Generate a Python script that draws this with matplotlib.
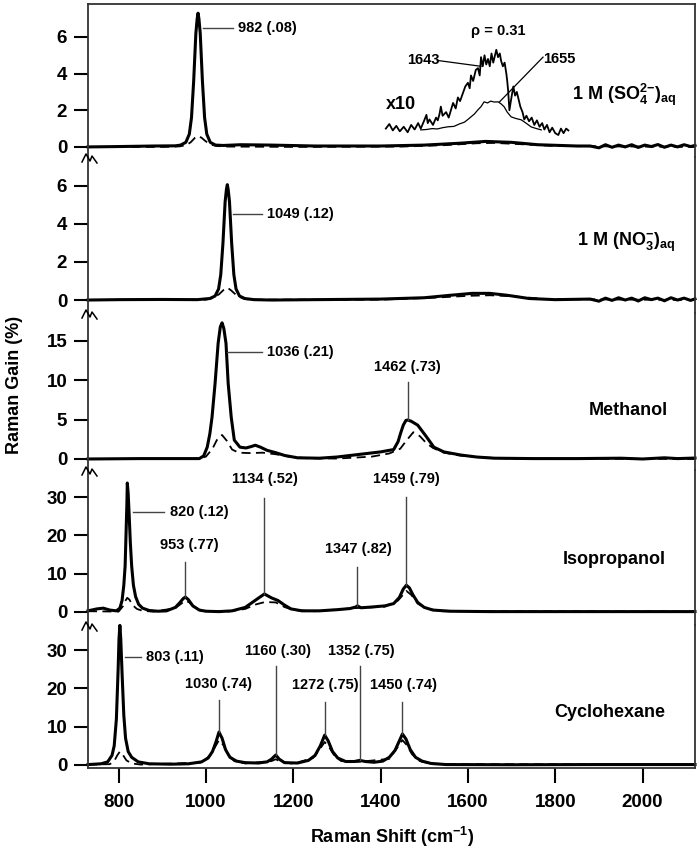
import numpy as np
import matplotlib.pyplot as plt
from matplotlib.lines import Line2D

plt.rcParams['font.family'] = ['Liberation Sans', 'DejaVu Sans']
plt.rcParams['font.weight'] = 'bold'
plt.rcParams['mathtext.fontset'] = 'custom'
plt.rcParams['mathtext.rm'] = 'Liberation Sans:bold'
plt.rcParams['mathtext.bf'] = 'Liberation Sans:bold'
plt.rcParams['mathtext.it'] = 'Liberation Sans:bold'
plt.rcParams['mathtext.default'] = 'bf'

# ---- spectra (Raman shift in cm-1, gain in %) ----
# 1 M sulfate, parallel (solid) and perpendicular (dashed)
so4_par_x = [730, 800, 880, 930, 942, 954, 962, 967, 972, 977, 980, 982, 984, 987, 992, 997,
             1002, 1010, 1022, 1040, 1080, 1150, 1250, 1400, 1500, 1580, 1640, 1700, 1760, 1850,
             1880, 1900, 1915, 1930, 1945, 1960, 1975, 1990, 2005, 2020, 2035, 2050, 2065, 2080,
             2095, 2110, 2120]
so4_par_y = [0.0, 0.02, 0.05, 0.06, 0.1, 0.25, 0.7, 1.6, 3.6, 6.2, 7.0, 7.3, 7.0, 6.2, 3.6, 1.6,
             0.7, 0.25, 0.1, 0.08, 0.12, 0.1, 0.05, 0.05, 0.1, 0.2, 0.3, 0.25, 0.12, 0.05,
             0.05, -0.05, 0.12, -0.02, 0.1, 0.0, 0.12, -0.03, 0.1, 0.02, 0.13, -0.02, 0.1, 0.0,
             0.12, 0.02, 0.08]
so4_perp_x = [730, 900, 940, 955, 965, 975, 982, 990, 1000, 1012, 1025, 1050, 1200, 1450, 1550,
              1620, 1660, 1720, 1800, 2120]
so4_perp_y = [0.0, 0.0, 0.03, 0.1, 0.25, 0.5, 0.6, 0.5, 0.3, 0.12, 0.05, 0.02, 0.0, 0.02, 0.1,
              0.2, 0.22, 0.15, 0.05, 0.0]
# x10 expanded bending band (drawn offset above the baseline)
so4_x10_par_x = [1412, 1420, 1428, 1436, 1444, 1453, 1462, 1470, 1478, 1486, 1492, 1500, 1505,
                 1508, 1512, 1520, 1527, 1531, 1535, 1538, 1542, 1550, 1556, 1561, 1566, 1572,
                 1577, 1582, 1588, 1594, 1600, 1604, 1607, 1612, 1618, 1623, 1627, 1630, 1634,
                 1638, 1642, 1646, 1650, 1654, 1658, 1662, 1665, 1669, 1673, 1676, 1680, 1684,
                 1688, 1690, 1692, 1695, 1699, 1704, 1708, 1712, 1715, 1720, 1725, 1729, 1734,
                 1740, 1746, 1752, 1758, 1764, 1770, 1775, 1781, 1787, 1793, 1800, 1807, 1813,
                 1819, 1825, 1830]
so4_x10_par_y = [1.0, 1.25, 0.9, 1.15, 0.85, 1.1, 0.8, 1.2, 0.95, 1.3, 1.0, 1.45, 1.75,
                 1.3, 1.5, 1.2, 1.6, 1.45, 1.8, 2.2, 1.7, 1.9, 1.6, 2.0, 2.4, 2.1,
                 2.7, 2.5, 2.9, 3.3, 3.5, 3.2, 3.9, 3.6, 4.2, 4.3, 3.9, 4.9, 4.4,
                 5.0, 4.5, 4.8, 4.4, 5.1, 4.6, 5.0, 5.3, 4.9, 5.1, 4.7, 4.4, 4.6,
                 4.0, 3.6, 3.1, 2.0, 2.6, 3.3, 2.8, 3.0, 2.7, 2.2, 1.9, 1.5, 1.7,
                 1.4, 1.6, 1.2, 1.45, 1.1, 1.3, 0.95, 1.2, 0.8, 1.05, 0.75, 0.65, 1.0,
                 0.75, 1.0, 0.9]
so4_x10_perp_x = [1492, 1505, 1518, 1530, 1542, 1555, 1568, 1580, 1592, 1600, 1607, 1615, 1622,
                  1630, 1637, 1645, 1652, 1660, 1669, 1676, 1683, 1690, 1699, 1710, 1722, 1733,
                  1745, 1757, 1768]
so4_x10_perp_y = [0.93, 0.95, 1.0, 0.98, 1.05, 1.1, 1.12, 1.25, 1.35, 1.5, 1.64, 1.8, 2.0,
                  2.2, 2.46, 2.4, 2.5, 2.45, 2.46, 2.35, 2.19, 1.9, 1.64, 1.55, 1.48, 1.3,
                  1.09, 1.0, 0.93]

# 1 M nitrate
no3_par_x = [730, 800, 900, 980, 1009, 1021, 1029, 1034, 1039, 1044, 1047, 1049, 1051, 1054,
             1059, 1064, 1069, 1077, 1089, 1110, 1150, 1250, 1400, 1500, 1560, 1610, 1650, 1690,
             1740, 1800, 1880, 1900, 1915, 1930, 1945, 1960, 1975, 1990, 2005, 2020, 2035, 2050,
             2065, 2080, 2095, 2110, 2120]
no3_par_y = [0.0, 0.02, 0.03, 0.02, 0.08, 0.21, 0.58, 1.33, 2.97, 5.15, 5.8, 6.05, 5.8, 5.15,
             2.97, 1.33, 0.58, 0.21, 0.08, 0.02, 0.0, 0.02, 0.05, 0.12, 0.25, 0.35, 0.35, 0.25,
             0.08, 0.02, 0.05, -0.06, 0.1, -0.02, 0.12, 0.0, 0.1, -0.05, 0.12, 0.02, 0.1, -0.04,
             0.12, 0.0, 0.1, -0.02, 0.06]
no3_perp_x = [730, 1000, 1015, 1030, 1040, 1049, 1058, 1070, 1085, 1100, 1400, 1520, 1600, 1650,
              1700, 1780, 2120]
no3_perp_y = [0.0, 0.02, 0.1, 0.3, 0.52, 0.65, 0.5, 0.25, 0.08, 0.02, 0.02, 0.12, 0.22, 0.25,
              0.2, 0.05, 0.0]

# methanol
meoh_par_x = [730, 850, 950, 985, 995, 1003, 1009, 1014, 1021, 1028, 1033, 1037, 1041, 1046,
              1051, 1058, 1065, 1078, 1092, 1105, 1113, 1125, 1140, 1160, 1180, 1210, 1260, 1300,
              1354, 1400, 1430, 1440, 1446, 1452, 1458, 1462, 1470, 1485, 1504, 1522, 1545, 1584,
              1620, 1660, 1750, 1850, 1950, 2000, 2050, 2080, 2120]
meoh_par_y = [0.0, 0.05, 0.05, 0.05, 0.4, 1.5, 3.2, 5.3, 9.6, 14.7, 16.8, 17.3, 16.6, 14.7,
              9.6, 5.3, 2.4, 1.5, 1.4, 1.6, 1.75, 1.5, 1.1, 0.8, 0.45, 0.15, 0.1, 0.25,
              0.6, 0.9, 1.2, 2.2, 3.3, 4.3, 4.9, 4.95, 4.8, 4.3, 2.9, 1.5, 0.9, 0.5,
              0.25, 0.1, 0.05, 0.05, 0.1, 0.0, 0.15, 0.05, 0.12]
meoh_perp_x = [730, 980, 1000, 1015, 1025, 1037, 1048, 1060, 1075, 1100, 1130, 1160, 1190, 1230,
               1300, 1380, 1420, 1445, 1460, 1475, 1490, 1505, 1520, 1545, 1580, 1630, 1700, 2120]
meoh_perp_y = [0.0, 0.0, 0.3, 1.3, 2.4, 3.05, 2.3, 1.2, 0.8, 0.75, 0.8, 0.6, 0.3, 0.1,
               0.05, 0.3, 0.7, 1.3, 2.4, 3.4, 2.9, 2.0, 1.4, 0.8, 0.45, 0.2, 0.05, 0.0]

# isopropanol
ipa_par_x = [730, 750, 765, 780, 795, 803, 808, 812, 815, 817, 819, 820, 822, 824, 827, 830,
             834, 839, 846, 855, 870, 890, 910, 930, 940, 948, 953, 960, 970, 985, 1000, 1030,
             1060, 1090, 1110, 1125, 1134, 1150, 1165, 1180, 1195, 1220, 1260, 1300, 1330, 1343,
             1347, 1355, 1380, 1410, 1430, 1443, 1452, 1459, 1466, 1474, 1485, 1500, 1520, 1560,
             1650, 1800, 1950, 2120]
ipa_par_y = [0.3, 0.8, 1.0, 0.5, 0.3, 1.0, 3.0, 7.0, 12.0, 20.0, 28.0, 33.7, 31.0, 26.0, 18.0, 12.0,
             7.0, 4.0, 2.0, 1.0, 0.4, 0.2, 0.3, 1.2, 2.4, 3.5, 3.9, 3.2, 1.6, 0.5, 0.2, 0.1,
             0.3, 1.2, 2.8, 4.0, 4.7, 3.7, 3.0, 1.8, 0.8, 0.3, 0.3, 0.6, 0.9, 1.3,
             1.6, 1.1, 1.3, 1.6, 2.2, 3.8, 6.0, 7.0, 6.3, 4.5, 2.5, 1.2, 0.5, 0.2,
             0.1, 0.1, 0.1, 0.1]
ipa_perp_x = [730, 800, 810, 816, 820, 825, 832, 842, 855, 880, 930, 945, 953, 962, 975, 990,
              1050, 1090, 1115, 1135, 1160, 1180, 1200, 1250, 1340, 1410, 1440, 1459, 1470, 1485,
              1505, 1540, 2120]
ipa_perp_y = [0.2, 0.1, 1.5, 3.0, 3.7, 3.2, 1.8, 0.8, 0.3, 0.1, 1.0, 2.3, 3.0, 2.5, 1.0, 0.3,
              0.1, 0.8, 2.0, 2.6, 2.5, 1.3, 0.5, 0.2, 1.0, 1.4, 3.0, 5.5, 4.5, 2.2,
              0.9, 0.2, 0.1]

# cyclohexane
chx_par_x = [730, 760, 775, 785, 790, 795, 799, 801, 803, 805, 808, 812, 816, 822, 830, 845,
             870, 920, 960, 990, 1005, 1015, 1023, 1030, 1037, 1045, 1055, 1070, 1090, 1120, 1140,
             1150, 1160, 1168, 1180, 1210, 1235, 1250, 1262, 1272, 1280, 1290, 1302, 1320, 1340,
             1352, 1365, 1385, 1405, 1420, 1433, 1443, 1450, 1458, 1468, 1480, 1495, 1515, 1550,
             1700, 1900, 2120]
chx_par_y = [0.1, 0.3, 0.8, 2.5, 5.0, 12.0, 25.0, 33.0, 36.5, 33.0, 24.0, 13.0, 7.0, 3.5, 2.0, 0.8,
             0.3, 0.2, 0.3, 0.8, 1.8, 3.5, 6.0, 8.6, 7.0, 4.0, 2.0, 1.0, 0.6, 0.5, 0.8,
             1.5, 2.6, 1.5, 0.6, 0.5, 1.2, 2.5, 5.0, 7.8, 6.3, 3.5, 1.8, 0.9, 0.9,
             1.2, 0.9, 0.7, 1.0, 2.0, 3.8, 6.3, 8.1, 6.8, 4.0, 2.0, 1.0, 0.4, 0.1,
             0.05, 0.1, 0.1]
chx_perp_x = [730, 780, 790, 797, 803, 810, 818, 830, 850, 990, 1010, 1020, 1030, 1040, 1050,
              1065, 1090, 1150, 1160, 1170, 1200, 1245, 1260, 1272, 1283, 1295, 1310, 1350, 1420,
              1440, 1450, 1460, 1472, 1490, 1520, 2120]
chx_perp_y = [0.1, 0.2, 1.0, 2.5, 3.5, 2.6, 1.2, 0.4, 0.1, 0.6, 2.5, 4.5, 6.5, 5.2, 2.8,
              1.0, 0.4, 1.0, 1.5, 0.9, 0.3, 1.8, 4.0, 6.0, 4.5, 2.3, 1.0, 0.8, 1.6,
              4.8, 6.5, 5.2, 2.8, 1.0, 0.2, 0.1]

sample_names = [r'1 M (SO$_4^{2\mathbf{-}}$)$_{aq}$', r'1 M (NO$_3^{\mathbf{-}}$)$_{aq}$',
                'Methanol', 'Isopropanol', 'Cyclohexane']
y_ticks = [[0, 2, 4, 6], [0, 2, 4, 6], [0, 5, 10, 15], [0, 10, 20, 30], [0, 10, 20, 30]]
x_ticks = [800, 1000, 1200, 1400, 1600, 1800, 2000]

# peak labels: text, text position, leader line start/end
peak_labels = [
    [('982 (.08)', 1074, 6.5, 'left', (993, 6.5), (1062, 6.5))],
    [('1049 (.12)', 1140, 4.5, 'left', (1062, 4.5), (1128, 4.5))],
    [('1036 (.21)', 1140, 13.6, 'left', (1049, 13.6), (1128, 13.6)),
     ('1462 (.73)', 1462, 10.8, 'center', (1462, 9.8), (1462, 4.95))],
    [('820 (.12)', 917, 26.1, 'left', (832, 26.1), (905, 26.1)),
     ('953 (.77)', 963, 15.6, 'center', (953, 13.0), (953, 3.9)),
     ('1134 (.52)', 1136, 32.8, 'center', (1134, 29.8), (1134, 4.7)),
     ('1347 (.82)', 1350, 14.6, 'center', (1347, 11.7), (1347, 1.6)),
     ('1459 (.79)', 1458, 32.8, 'center', (1459, 30.0), (1459, 7.0))],
    [('803 (.11)', 862, 28.2, 'left', (814, 28.2), (851, 28.2)),
     ('1030 (.74)', 1028, 19.3, 'center', (1030, 17.0), (1030, 8.6)),
     ('1160 (.30)', 1166, 28.1, 'center', (1160, 25.8), (1160, 2.6)),
     ('1272 (.75)', 1274, 19.0, 'center', (1272, 16.4), (1272, 7.8)),
     ('1352 (.75)', 1357, 28.1, 'center', (1352, 25.8), (1352, 1.2)),
     ('1450 (.74)', 1453, 19.0, 'center', (1450, 16.4), (1450, 8.1))],
]
name_pos = [(1957, 2.84), (1963, 3.0), (1968, 6.2), (1936, 13.6), (1924, 13.8)]

panels = [
    (so4_par_x, so4_par_y, so4_perp_x, so4_perp_y, (-0.55, 7.8)),
    (no3_par_x, no3_par_y, no3_perp_x, no3_perp_y, (-0.68, 7.5)),
    (meoh_par_x, meoh_par_y, meoh_perp_x, meoh_perp_y, (-1.4, 18.55)),
    (ipa_par_x, ipa_par_y, ipa_perp_x, ipa_perp_y, (-3.4, 37.1)),
    (chx_par_x, chx_par_y, chx_perp_x, chx_perp_y, (-0.8, 36.6)),
]

W, H = 700, 850
edges = [4, 157, 313, 470, 625, 768]
left_px, right_px = 88, 695
spine_col = '#333333'
lead_col = '#444444'

fig = plt.figure(figsize=(W / 100, H / 100), dpi=100)
axes = []
for i, (px, py, dx, dy, ylim) in enumerate(panels):
    top, bot = edges[i], edges[i + 1]
    ax = fig.add_axes([left_px / W, 1 - bot / H, (right_px - left_px) / W, (bot - top) / H])
    axes.append(ax)
    ax.plot(dx, dy, color='black', lw=1.3, ls=(0, (5, 3)))
    ax.plot(px, py, color='black', lw=2.2, clip_on=False)
    ax.set_xlim(730, 2120)
    ax.set_ylim(*ylim)
    ax.set_yticks(y_ticks[i])
    ax.tick_params(axis='y', direction='out', length=10, width=1.5, labelsize=13.5, pad=5,
                   colors='black')
    for s in ['left', 'right', 'top', 'bottom']:
        ax.spines[s].set_color(spine_col)
        ax.spines[s].set_linewidth(1.3)
    ax.spines['top'].set_visible(i == 0)
    ax.spines['bottom'].set_visible(i == len(panels) - 1)
    if i == len(panels) - 1:
        ax.set_xticks(x_ticks)
        ax.tick_params(axis='x', direction='out', length=11, width=1.5, labelsize=13.5, pad=8)
    else:
        ax.tick_params(axis='x', bottom=False, labelbottom=False)
    ax.patch.set_alpha(0)

    for txt, tx, ty, ha, p0, p1 in peak_labels[i]:
        ax.plot([p0[0], p1[0]], [p0[1], p1[1]], color=lead_col, lw=1.0)
        ax.text(tx, ty, txt, ha=ha, va='center' if ha == 'left' else 'bottom',
                fontsize=10.5, fontweight='bold')
    nx, ny = name_pos[i]
    ax.text(nx, ny, sample_names[i], ha='center', va='center', fontsize=13, fontweight='bold')

# x10 inset traces on the sulfate panel
ax0 = axes[0]
ax0.plot(so4_x10_perp_x, so4_x10_perp_y, color='black', lw=0.9)
ax0.plot(so4_x10_par_x, so4_x10_par_y, color='black', lw=1.3)
ax0.text(1669, 6.34, '\u03c1 = 0.31', ha='center', va='center', fontsize=10.5, fontweight='bold')
ax0.text(1497, 4.72, '1643', ha='center', va='center', fontsize=10.5, fontweight='bold')
ax0.plot([1530, 1630], [4.72, 4.4], color='black', lw=0.9)
ax0.text(1773, 4.8, '1655', ha='left', va='center', fontsize=10.5, fontweight='bold')
ax0.plot([1772, 1672], [4.9, 2.45], color='black', lw=0.9)
ax0.text(1446, 2.3, 'x10', ha='center', va='center', fontsize=13, fontweight='bold')

# axis break marks on the left spine between panels
def to_fig(x, y):
    return x / W, 1 - y / H

zig = [(-6, 5), (-2, -3), (2, 4), (4, -1), (9, 6)]
for yb in edges[1:-1]:
    pts = [to_fig(left_px + dx, yb + dy) for dx, dy in zig]
    fig.add_artist(Line2D([p[0] for p in pts], [p[1] for p in pts], color='black', lw=1.1,
                          transform=fig.transFigure))

fig.text(15 / W, 1 - 385 / H, 'Raman Gain (%)', rotation=90, ha='center', va='center',
         fontsize=13, fontweight='bold')
fig.text(392 / W, 1 - 837 / H, r'Raman Shift (cm$^{\mathbf{-1}}$)', ha='center', va='center',
         fontsize=13, fontweight='bold')

fig.savefig('out.png', dpi=100)
